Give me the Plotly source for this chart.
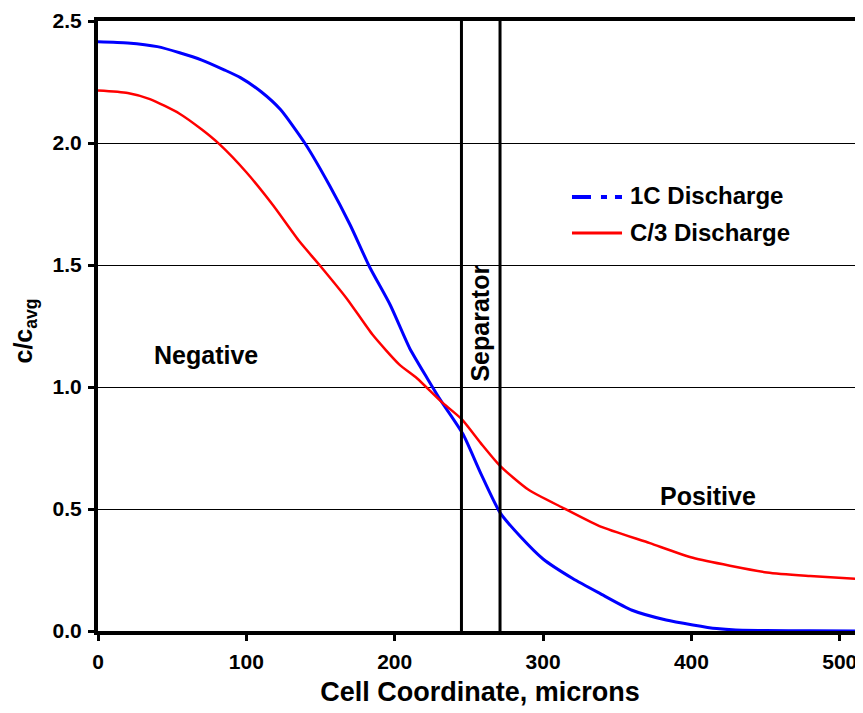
import plotly.graph_objects as go

# 1C discharge (blue)
x_1c = [0, 20, 40, 55, 70, 85, 96, 110, 123, 140, 156, 170, 183, 197, 210, 222, 231,
        246, 258, 271, 285, 300, 320, 338, 360, 383, 401, 417, 430, 450, 480, 515]
y_1c = [2.415, 2.41, 2.395, 2.37, 2.34, 2.30, 2.268, 2.21, 2.137, 1.994, 1.827, 1.664, 1.493,
        1.336, 1.16, 1.035, 0.945, 0.807, 0.646, 0.485, 0.385, 0.295, 0.215, 0.155,
        0.085, 0.045, 0.025, 0.01, 0.004, 0.002, 0.001, 0.0]

# C/3 discharge (red)
x_c3 = [0, 20, 35, 55, 70, 82, 100, 118, 136, 150, 168, 185, 203, 215, 231, 245, 258, 271,
        290, 313, 338, 372, 401, 451, 480, 515]
y_c3 = [2.215, 2.205, 2.18, 2.12, 2.055, 1.994, 1.88, 1.745, 1.595, 1.495, 1.36, 1.215, 1.093,
        1.036, 0.942, 0.869, 0.77, 0.677, 0.58, 0.506, 0.43, 0.36, 0.30, 0.24, 0.225, 0.212]

series_names = ["1C Discharge", "C/3 Discharge"]
separator_x = [245, 271]
y_ticks = [0.0, 0.5, 1.0, 1.5, 2.0, 2.5]
x_ticks = [0, 100, 200, 300, 400, 500]

FONT = "Liberation Sans, Arial, sans-serif"
BLUE = "#0000FF"
RED = "#FF0000"

fig = go.Figure()
fig.add_trace(go.Scatter(x=x_1c, y=y_1c, mode="lines", name=series_names[0],
                         line=dict(color=BLUE, width=3, shape="spline", smoothing=0.6),
                         showlegend=False))
fig.add_trace(go.Scatter(x=x_c3, y=y_c3, mode="lines", name=series_names[1],
                         line=dict(color=RED, width=2.5, shape="spline", smoothing=0.6),
                         showlegend=False))

for sx in separator_x:
    fig.add_shape(type="line", x0=sx, x1=sx, y0=0, y1=2.5, xref="x", yref="y",
                  line=dict(color="black", width=3), layer="above")

# right border (thin grey)
fig.add_shape(type="line", x0=1, x1=1, y0=0, y1=1, xref="paper", yref="paper",
              line=dict(color="#808080", width=1))

# manual legend
fig.add_shape(type="line", x0=0.6204, x1=0.6859, y0=0.7113, y1=0.7113, xref="paper", yref="paper",
              line=dict(color=BLUE, width=4, dash="19px,10px,6px,8px,7px,100px"))
fig.add_shape(type="line", x0=0.6204, x1=0.6859, y0=0.6525, y1=0.6525, xref="paper", yref="paper",
              line=dict(color=RED, width=3))
fig.add_annotation(x=0.6937, y=0.7145, xref="paper", yref="paper", xanchor="left", yanchor="middle",
                   text=f"<b>{series_names[0]}</b>", showarrow=False,
                   font=dict(family=FONT, size=24, color="black"))
fig.add_annotation(x=0.6937, y=0.654, xref="paper", yref="paper", xanchor="left", yanchor="middle",
                   text=f"<b>{series_names[1]}</b>", showarrow=False,
                   font=dict(family=FONT, size=24, color="black"))

fig.add_annotation(x=72.8, y=1.13, xref="x", yref="y", text="<b>Negative</b>", showarrow=False,
                   font=dict(family=FONT, size=25, color="black"))
fig.add_annotation(x=411, y=0.555, xref="x", yref="y", text="<b>Positive</b>", showarrow=False,
                   font=dict(family=FONT, size=25, color="black"))
fig.add_annotation(x=257.5, y=1.26, xref="x", yref="y", text="<b>Separator</b>", showarrow=False,
                   textangle=-90, font=dict(family=FONT, size=25, color="black"))
fig.add_annotation(x=-0.0955, y=0.491, xref="paper", yref="paper", xanchor="center",
                   yanchor="middle", text="<b>c/c<sub>avg</sub></b>",
                   showarrow=False, textangle=-90, font=dict(family=FONT, size=25, color="black"))

fig.update_layout(
    width=855, height=705,
    margin=dict(l=90, r=1, t=10, b=82),
    paper_bgcolor="white", plot_bgcolor="white",
    font=dict(family=FONT, color="black"),
    showlegend=False,
    xaxis=dict(range=[0, 515], tickvals=x_ticks, ticktext=[f"<b>{v}</b>" for v in x_ticks],
               showgrid=False, zeroline=False, showline=True, linecolor="black", linewidth=4,
               mirror=True, ticks="outside", ticklen=6, tickwidth=3, tickcolor="black",
               tickfont=dict(family=FONT, size=21), ticklabelstandoff=3,
               ticklabeloverflow="allow",
               title=dict(text="<b>Cell Coordinate, microns</b>", font=dict(family=FONT, size=27),
                          standoff=11)),
    yaxis=dict(range=[0, 2.5], tickvals=y_ticks, ticktext=[f"<b>{v:.1f}</b>" for v in y_ticks],
               showgrid=True, gridcolor="black", gridwidth=1, zeroline=False, showline=True,
               linecolor="black", linewidth=4, ticks="outside", ticklen=6, tickwidth=3,
               tickcolor="black", tickfont=dict(family=FONT, size=21), ticklabelstandoff=2,
               ticklabeloverflow="allow"),
)

fig.write_html("out.html")
